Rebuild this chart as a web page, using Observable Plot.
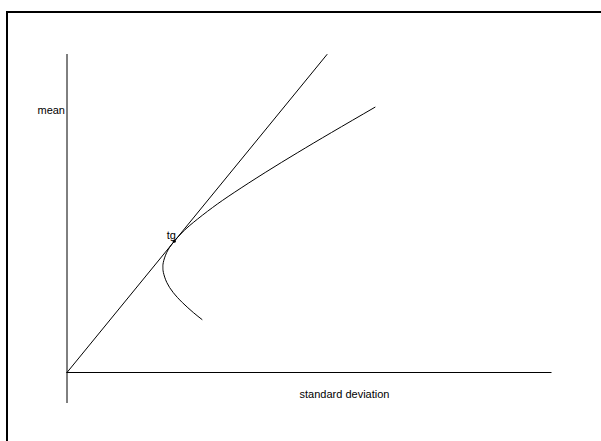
<!DOCTYPE html>
<html>
<head>
<meta charset="utf-8">
<script src="https://cdn.jsdelivr.net/npm/d3@7"></script>
<script src="https://cdn.jsdelivr.net/npm/@observablehq/plot@0.6"></script>
<style>
  html, body { margin: 0; padding: 0; background: #fff; }
  #wrap { position: relative; width: 601px; height: 441px; overflow: hidden; }
  #frame { position: absolute; left: 6px; top: 11px; width: 700px; height: 500px;
           border-left: 2px solid #000; border-top: 2px solid #000; box-sizing: border-box; }
  #chart { position: absolute; left: 0; top: 0; }
</style>
</head>
<body>
<div id="wrap"><div id="frame"></div><div id="chart"></div></div>
<script>
// Efficient frontier: standard deviation vs mean
const frontierSd   = [13.50, 12.63, 11.53, 10.62, 9.98, 9.64, 9.59, 9.63, 9.97, 10.62, 11.52, 12.63, 14.56, 16.72, 19.82, 23.08, 26.45, 30.80];
const frontierMean = [5.3,   6,     7,     8,     9,    10,   10.5, 11,   12,   13,    14,    15,    16.5,  18,    20,    22,    24,    26.53];

// Tangent line from the origin
const tangentSd   = [0, 26.0];
const tangentMean = [0, 31.8];

// Tangency point
const tgSd = [10.73];
const tgMean = [13.13];
const tgLabel = ["tg"];

// Axes extents and labels
const xAxisEnd = 48.5;
const yAxisStart = -3.1;
const yAxisEnd = 31.8;
const xLabel = "standard deviation";
const yLabel = "mean";
const xLabelPos = [27.75, -2.2];
const yLabelPos = [0, 26.2];

const frontier = frontierSd.map((s, i) => ({sd: s, mean: frontierMean[i]}));
const tangent = tangentSd.map((s, i) => ({sd: s, mean: tangentMean[i]}));
const tg = tgSd.map((s, i) => ({sd: s, mean: tgMean[i], label: tgLabel[i]}));

const chart = Plot.plot({
  width: 601,
  height: 441,
  margin: 0,
  style: {fontFamily: "'Liberation Sans', Arial, sans-serif", fontSize: "11px", background: "transparent"},
  x: {type: "linear", domain: [0, 48.5], range: [66.5, 551.5], axis: null},
  y: {type: "linear", domain: [0, 31.8], range: [372, 54], axis: null},
  marks: [
    Plot.ruleX([0], {y1: yAxisStart, y2: yAxisEnd, stroke: "#000", strokeWidth: 1}),
    Plot.ruleY([0], {x1: 0, x2: xAxisEnd, stroke: "#000", strokeWidth: 1}),
    Plot.line(tangent, {x: "sd", y: "mean", stroke: "#000", strokeWidth: 1}),
    Plot.line(frontier, {x: "sd", y: "mean", stroke: "#000", strokeWidth: 1, curve: "natural"}),
    Plot.dot(tg, {x: "sd", y: "mean", r: 1.5, fill: "#000"}),
    Plot.text(tg, {x: "sd", y: "mean", text: "label", dx: -3, dy: -6, fill: "#000"}),
    Plot.text([yLabel], {x: [yLabelPos[0]], y: [yLabelPos[1]], text: d => d, textAnchor: "end", dx: -2, fill: "#000"}),
    Plot.text([xLabel], {x: [xLabelPos[0]], y: [xLabelPos[1]], text: d => d, fill: "#000"})
  ]
});
document.getElementById("chart").appendChild(chart);
</script>
</body>
</html>
